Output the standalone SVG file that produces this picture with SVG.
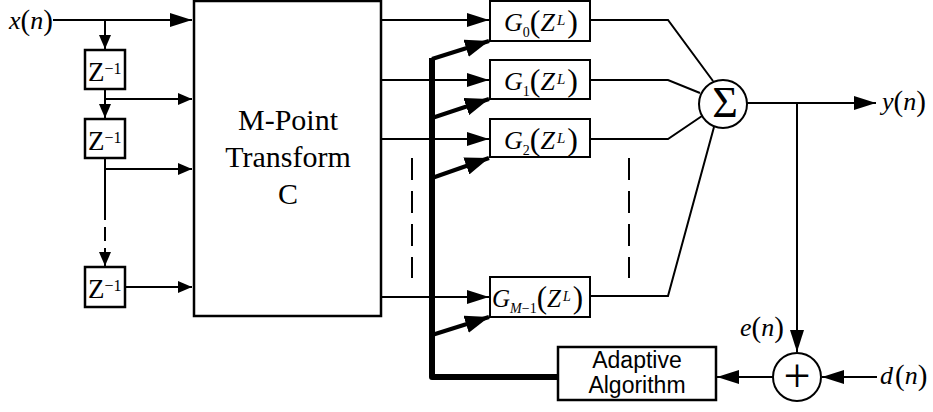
<svg xmlns="http://www.w3.org/2000/svg" width="933" height="412" viewBox="0 0 933 412">
<style>
.bx{fill:#fff;stroke:#000;stroke-width:2.5}
.gb{fill:#fff;stroke:#000;stroke-width:2}
.ln{fill:none;stroke:#000;stroke-width:2}
.dl{fill:none;stroke:#000;stroke-width:2;stroke-dasharray:22,11}
.bus{fill:none;stroke:#000;stroke-width:6;stroke-linejoin:round}
.th{fill:none;stroke:#000;stroke-width:4}
.s{font-family:"Liberation Serif","Times New Roman",serif;fill:#000}
.i{font-style:italic}
.a{font-family:"Liberation Sans",Arial,sans-serif;fill:#000}
</style>
<defs>
<marker id="ar" markerUnits="userSpaceOnUse" markerWidth="23" markerHeight="14" refX="22" refY="7" orient="auto"><path d="M0,0L22,7L0,14z"/></marker>
<marker id="ars" markerUnits="userSpaceOnUse" markerWidth="15" markerHeight="12" refX="14" refY="6" orient="auto"><path d="M0,0L14,6L0,12z"/></marker>
<marker id="art" markerUnits="userSpaceOnUse" markerWidth="25" markerHeight="18" refX="24" refY="9" orient="auto"><path d="M0,0L24,9L0,18z"/></marker>
</defs>
<g id="connectors">
<path class="ln" d="M53,20H192" marker-end="url(#ar)"/>
<path class="ln" d="M105,20V49" marker-end="url(#ars)"/>
<path class="ln" d="M105,89V118" marker-end="url(#ars)"/>
<path class="ln" d="M105,99H192" marker-end="url(#ars)"/>
<path class="ln" d="M105,158V206"/>
<path class="ln" d="M105,206V255" stroke-dasharray="14,7"/>
<path class="ln" d="M105,250V266" marker-end="url(#ars)"/>
<path class="ln" d="M105,169H192" marker-end="url(#ars)"/>
<path class="ln" d="M125,287H192" marker-end="url(#ars)"/>
<path class="ln" d="M381,20H489" marker-end="url(#ar)"/>
<path class="ln" d="M381,80H489" marker-end="url(#ar)"/>
<path class="ln" d="M381,139H489" marker-end="url(#ar)"/>
<path class="ln" d="M381,297H489" marker-end="url(#ar)"/>
<path class="dl" d="M412,158V278"/>
<path class="dl" d="M629,158V278"/>
<path class="bus" d="M432,58V377H558"/>
<path class="th" d="M432,59L489,41" marker-end="url(#art)"/>
<path class="th" d="M432,118L489,99" marker-end="url(#art)"/>
<path class="th" d="M432,178L489,158" marker-end="url(#art)"/>
<path class="th" d="M432,335L489,317" marker-end="url(#art)"/>
<path class="ln" d="M590,20H668L713,81"/>
<path class="ln" d="M590,80H668L700,93"/>
<path class="ln" d="M590,139H668L702,116"/>
<path class="ln" d="M590,296H668L714,127"/>
<path class="ln" d="M747,103H876" marker-end="url(#ar)"/>
<path class="ln" d="M797,103V352" marker-end="url(#ar)"/>
<path class="ln" d="M877,377H822" marker-end="url(#ar)"/>
<path class="ln" d="M773,377H717" marker-end="url(#ar)"/>
</g>
<g id="xn"><text class="s" y="29"><tspan class="i" x="9" font-size="26">x</tspan><tspan font-size="29" dy="1">(</tspan><tspan class="i" font-size="26" dy="-1">n</tspan><tspan font-size="29" dy="1">)</tspan></text></g>
<g id="z1"><rect class="bx" x="85" y="50" width="40" height="39"/><text class="s" x="88" y="81" font-size="27">Z<tspan font-size="16" dy="-7">−1</tspan></text></g>
<g id="z2"><rect class="bx" x="85" y="119" width="40" height="39"/><text class="s" x="88" y="150" font-size="27">Z<tspan font-size="16" dy="-7">−1</tspan></text></g>
<g id="z3"><rect class="bx" x="85" y="267" width="40" height="40"/><text class="s" x="88" y="298" font-size="27">Z<tspan font-size="16" dy="-7">−1</tspan></text></g>
<g id="transform"><rect class="bx" x="194" y="1" width="187" height="315"/>
<text class="s" font-size="30" text-anchor="middle"><tspan x="288" y="130">M-Point</tspan><tspan x="288" y="167">Transform</tspan><tspan x="288" y="204">C</tspan></text></g>
<g id="g0"><rect class="gb" x="490" y="1" width="100" height="40"/><text class="s" y="31" font-size="26"><tspan class="i" x="504">G</tspan><tspan font-size="14" dy="6">0</tspan><tspan font-size="32" dy="-5">(</tspan><tspan class="i" dy="-1">Z</tspan><tspan class="i" font-size="15" dy="-6" dx="2">L</tspan><tspan font-size="32" dy="7" dx="2">)</tspan></text></g>
<g id="g1"><rect class="gb" x="490" y="60" width="100" height="39"/><text class="s" y="90" font-size="26"><tspan class="i" x="504">G</tspan><tspan font-size="14" dy="6">1</tspan><tspan font-size="32" dy="-5">(</tspan><tspan class="i" dy="-1">Z</tspan><tspan class="i" font-size="15" dy="-6" dx="2">L</tspan><tspan font-size="32" dy="7" dx="2">)</tspan></text></g>
<g id="g2"><rect class="gb" x="490" y="119" width="100" height="38"/><text class="s" y="149" font-size="26"><tspan class="i" x="504">G</tspan><tspan font-size="14" dy="6">2</tspan><tspan font-size="32" dy="-5">(</tspan><tspan class="i" dy="-1">Z</tspan><tspan class="i" font-size="15" dy="-6" dx="2">L</tspan><tspan font-size="32" dy="7" dx="2">)</tspan></text></g>
<g id="gm1"><rect class="gb" x="490" y="277" width="100" height="40"/><text class="s" y="307" font-size="25"><tspan class="i" x="492">G</tspan><tspan font-size="14" dy="6"><tspan class="i">M</tspan>−1</tspan><tspan font-size="31" dy="-5">(</tspan><tspan class="i" dy="-1">Z</tspan><tspan class="i" font-size="14" dy="-6" dx="2">L</tspan><tspan font-size="31" dy="7" dx="2">)</tspan></text></g>
<g id="sum"><circle cx="723" cy="104" r="24" fill="#fff" stroke="#000" stroke-width="2"/><text class="s" x="725" y="117" font-size="44" text-anchor="middle">Σ</text></g>
<g id="yn"><text class="s" y="110"><tspan class="i" x="882" font-size="26">y</tspan><tspan font-size="29" dy="1">(</tspan><tspan class="i" font-size="26" dy="-1">n</tspan><tspan font-size="29" dy="1">)</tspan></text></g>
<g id="plus"><circle cx="797" cy="377" r="24" fill="#fff" stroke="#000" stroke-width="2"/><text class="s" x="797" y="392" font-size="48" text-anchor="middle">+</text></g>
<g id="en"><text class="s" y="336"><tspan class="i" x="740" font-size="26">e</tspan><tspan font-size="29" dy="1">(</tspan><tspan class="i" font-size="26" dy="-1">n</tspan><tspan font-size="29" dy="1">)</tspan></text></g>
<g id="dn"><text class="s" y="384"><tspan class="i" x="880" font-size="26">d</tspan><tspan font-size="29" dy="1" dx="2">(</tspan><tspan class="i" font-size="26" dy="-1">n</tspan><tspan font-size="29" dy="1">)</tspan></text></g>
<g id="adaptive"><rect class="bx" x="558" y="347" width="158" height="53"/><text class="a" font-size="23" text-anchor="middle"><tspan x="637" y="368">Adaptive</tspan><tspan x="637" y="393">Algorithm</tspan></text></g>
</svg>
